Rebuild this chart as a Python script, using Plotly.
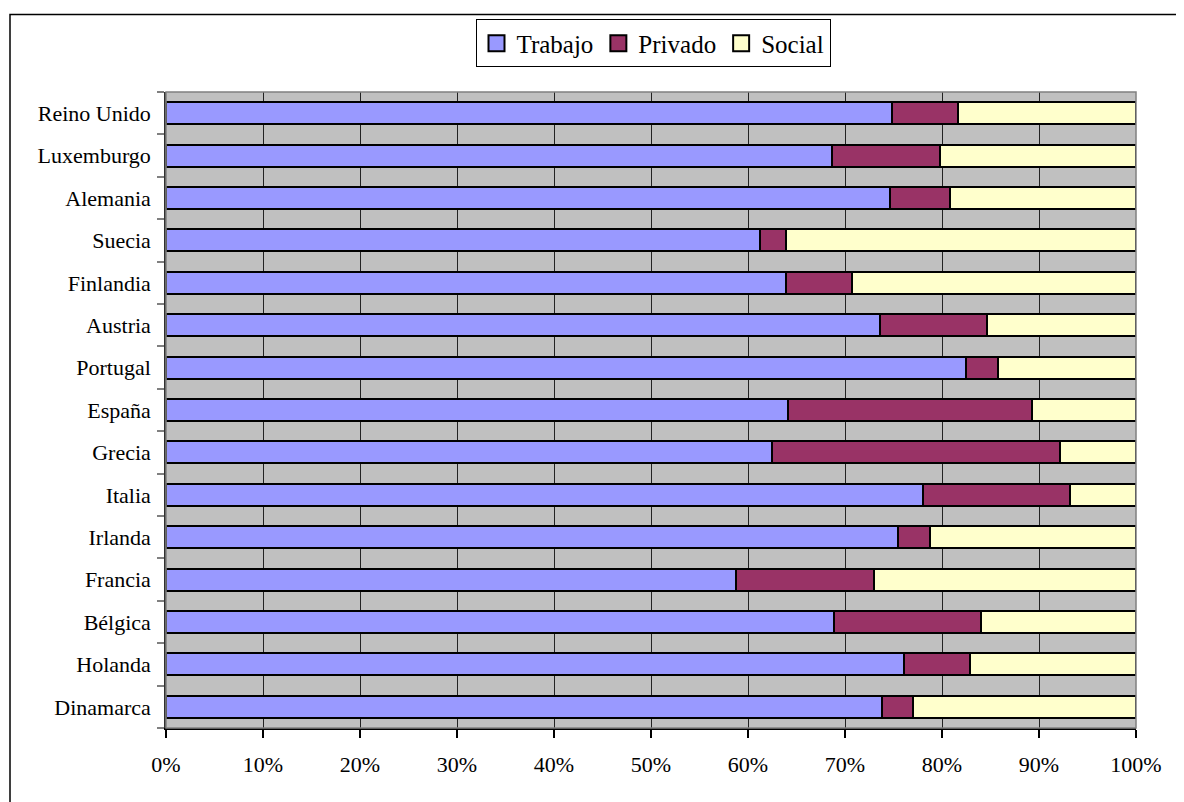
import plotly.graph_objects as go

paises = ["Dinamarca", "Holanda", "Bélgica", "Francia", "Irlanda", "Italia", "Grecia",
          "España", "Portugal", "Austria", "Finlandia", "Suecia", "Alemania",
          "Luxemburgo", "Reino Unido"]
trabajo = [73.8, 76.1, 68.9, 58.8, 75.5, 78.0, 62.5, 64.1, 82.5, 73.6, 63.9, 61.2, 74.6, 68.7, 74.8]
privado = [3.2, 6.8, 15.1, 14.2, 3.3, 15.2, 29.7, 25.2, 3.3, 11.0, 6.8, 2.7, 6.2, 11.1, 6.9]
social = [23.0, 17.1, 16.0, 27.0, 21.2, 6.8, 7.8, 10.7, 14.2, 15.4, 29.3, 36.1, 19.2, 20.2, 18.3]
x_ticks = [0, 10, 20, 30, 40, 50, 60, 70, 80, 90, 100]

series = [("Trabajo", trabajo, "#9999FF"), ("Privado", privado, "#993366"), ("Social", social, "#FFFFCC")]

fig = go.Figure()
for name, vals, col in series:
    fig.add_trace(go.Bar(
        y=paises, x=vals, name=name, orientation="h",
        marker=dict(color=col, line=dict(color="black", width=2)),
        width=0.52, showlegend=False,
    ))
for name, vals, col in series:
    fig.add_trace(go.Scatter(
        x=[None], y=[None], mode="markers", name=name,
        marker=dict(symbol="square", size=16, color=col, line=dict(color="black", width=2)),
        showlegend=True,
    ))

OFF = 8  # page body margin
W, H = 1184 - OFF, 802 - OFF
L, T = 166 - OFF, 88 - OFF
R = W - (1136 - OFF)
B = H - (728 - OFF)
pw, ph = W - L - R, H - T - B

def px_x(p):
    return (p - OFF - L) / pw

def px_y(p):
    return (H - B - (p - OFF)) / ph

fig.update_layout(
    barmode="stack",
    width=W, height=H,
    margin=dict(l=L, r=R, t=T, b=B, pad=0),
    paper_bgcolor="white",
    plot_bgcolor="#C0C0C0",
    font=dict(family="Liberation Serif, Times New Roman, serif", size=22, color="black"),
    showlegend=True,
    legend=dict(
        orientation="h", x=px_x(653), xanchor="center", y=px_y(15), yanchor="top",
        bordercolor="black", borderwidth=1, bgcolor="white",
        font=dict(size=25), traceorder="normal",
        itemwidth=30, tracegroupgap=0,
    ),
    bargap=0.48,
    shapes=[
        dict(type="rect", xref="paper", yref="paper",
             x0=px_x(10), x1=px_x(1300), y0=px_y(900), y1=px_y(10),
             line=dict(color="black", width=1.5), fillcolor="rgba(0,0,0,0)", layer="below"),
        dict(type="rect", xref="paper", yref="paper",
             x0=0, x1=1, y0=0, y1=1,
             line=dict(color="#808080", width=1.5), fillcolor="rgba(0,0,0,0)", layer="above"),
    ],
)
fig.update_xaxes(
    range=[0, 100], tickvals=x_ticks, ticktext=[f"{v}%" for v in x_ticks],
    showgrid=True, gridcolor="#222222", gridwidth=1,
    ticks="outside", ticklen=8, tickcolor="black", tickwidth=1.5,
    showline=True, linecolor="black", linewidth=2,
    zeroline=False, ticklabelstandoff=8, fixedrange=True,
)
fig.update_yaxes(
    categoryorder="array", categoryarray=paises,
    tickson="boundaries", ticks="outside", ticklen=7, tickcolor="#808080", tickwidth=1.5,
    showline=True, linecolor="#303030", linewidth=1.5,
    showgrid=False, ticklabelstandoff=9, fixedrange=True,
)

fig.write_html("out.html")
